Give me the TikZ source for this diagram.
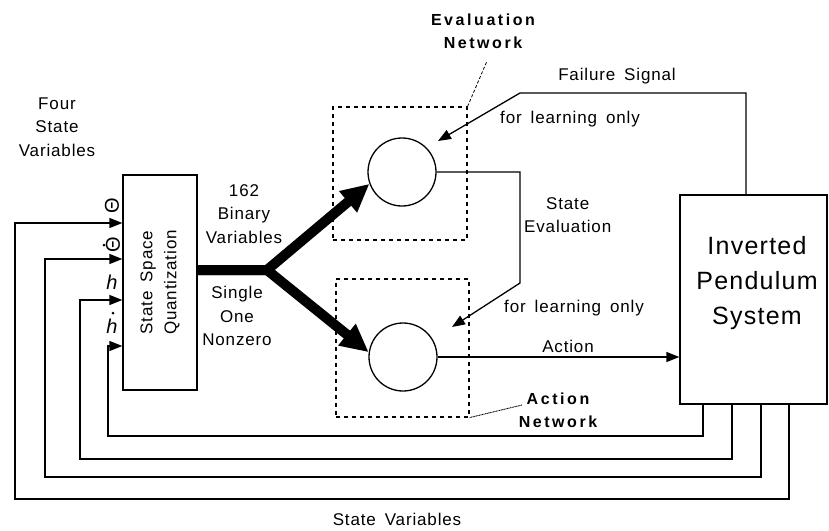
\documentclass[tikz,border=0pt]{standalone}
\usepackage{fontspec}
\setmainfont{Liberation Sans}[LetterSpace=5,WordSpace=1.6]
\newfontfamily\bspaced{Liberation Sans}[LetterSpace=16,WordSpace=1.4]
\newfontfamily\symfont{Liberation Sans}
\usetikzlibrary{arrows.meta}
\begin{document}
\begin{tikzpicture}[x=1pt,y=-1pt,
  ln/.style={line width=1.3pt},
  arr/.style={ln,-{Triangle[length=13pt,width=10pt]}},
  fat/.style={line width=10pt, line join=miter, -{Triangle[length=28pt,width=26pt]}},
  dbox/.style={draw, dash pattern=on 4pt off 4pt, line width=1.2pt, inner sep=0pt},
  blk/.style={draw, line width=1.3pt, inner sep=0pt},
  lbl/.style={font=\fontsize{17}{23.5}\selectfont, align=center, inner sep=0pt},
  blbl/.style={font=\bspaced\bfseries\fontsize{16}{23}\selectfont, align=center, inner sep=0pt},
  sym/.style={font=\symfont\fontsize{20}{20}\selectfont, inner sep=0pt},
  dotmark/.style={circle, fill, inner sep=0pt, minimum size=3pt},
]
\useasboundingbox (0,0) rectangle (829,530);

% blocks
\node[blk, minimum width=74pt, minimum height=215pt] (q) at (160,282.5) {};
\node[lbl, rotate=90, font=\fontsize{17}{24}\selectfont] (qt) at (q) {State Space\\Quantization};
\node[blk, minimum width=147pt, minimum height=209pt] (pend) at (753.5,299.5) {};
\node[lbl, font=\fontsize{25}{35}\selectfont] (pendt) at (757,283) {Inverted\\Pendulum\\System};

\node[dbox, minimum width=134pt, minimum height=133pt] (evbox) at (400,173.5) {};
\node[dbox, minimum width=133pt, minimum height=138pt] (actbox) at (402.5,348) {};
\node[blk, circle, minimum size=68pt] (ev) at (402,172) {};
\node[blk, circle, minimum size=68pt] (act) at (403,357) {};

% labels
\node[lbl] (four) at (57,127) {Four\\State\\Variables};
\node[lbl] (bin) at (244,214) {162\\Binary\\Variables};
\node[lbl] (single) at (237,316) {Single\\One\\Nonzero};
\node[lbl] (fail) at (617,76) {Failure Signal};
\node[lbl] (fl1) at (570,119) {for learning only};
\node[lbl] (fl2) at (574,308) {for learning only};
\node[lbl, anchor=west] (sev) at (524,215) {State\\Evaluation};
\node[lbl] (actl) at (568,346) {Action};
\node[blbl] (evn) at (483,31) {Evaluation\\Network};
\node[blbl] (actn) at (558,410) {Action\\Network};
\node[lbl] (sv) at (397,519) {State Variables};

\node[sym] (t1) at (112,206) {\rotatebox{90}{Θ}};
\node[sym] (t2) at (113,245) {\rotatebox{90}{Θ}};
\node[dotmark] (t2d) at (104,245) {};
\node[sym] (h1) at (112,282) {\itshape h};
\node[sym] (h2) at (112,326) {\itshape h};
\node[dotmark] (h2d) at (113,313) {};

% thick connectors
\coordinate (j) at (267,270);
\draw[fat] (q.east |- j) -- (j) -- (ev.200);
\draw[fat] (q.east |- j) -- (j) -- (act.172);

% evaluation output
\coordinate (fs) at (438,141);
\coordinate (se) at (452,327);
\draw[arr] (746,0 |- pend.north) |- (520,93) -- (fs);
\draw[arr] (ev.east) -| (520,283) -- (se);
\draw[arr] (act.east) -- (pend.west |- act.east);

% pointers
\draw[line width=0.8pt, dash pattern=on 3pt off 2pt] (evbox.north east) -- (487,61);
\draw[line width=0.9pt, dash pattern=on 1pt off 0.6pt] (actbox.south east) -- (522,405);

% feedback loops
\draw[arr] (789,0 |- pend.south) |- (15,499) |- (q.west |- 0,223);
\draw[arr] (761,0 |- pend.south) |- (45,477) |- (q.west |- 0,259);
\draw[arr] (732,0 |- pend.south) |- (80,459) |- (q.west |- 0,300);
\draw[arr] (703,0 |- pend.south) |- (108,436) |- (q.west |- 0,346);
\end{tikzpicture}
\end{document}
